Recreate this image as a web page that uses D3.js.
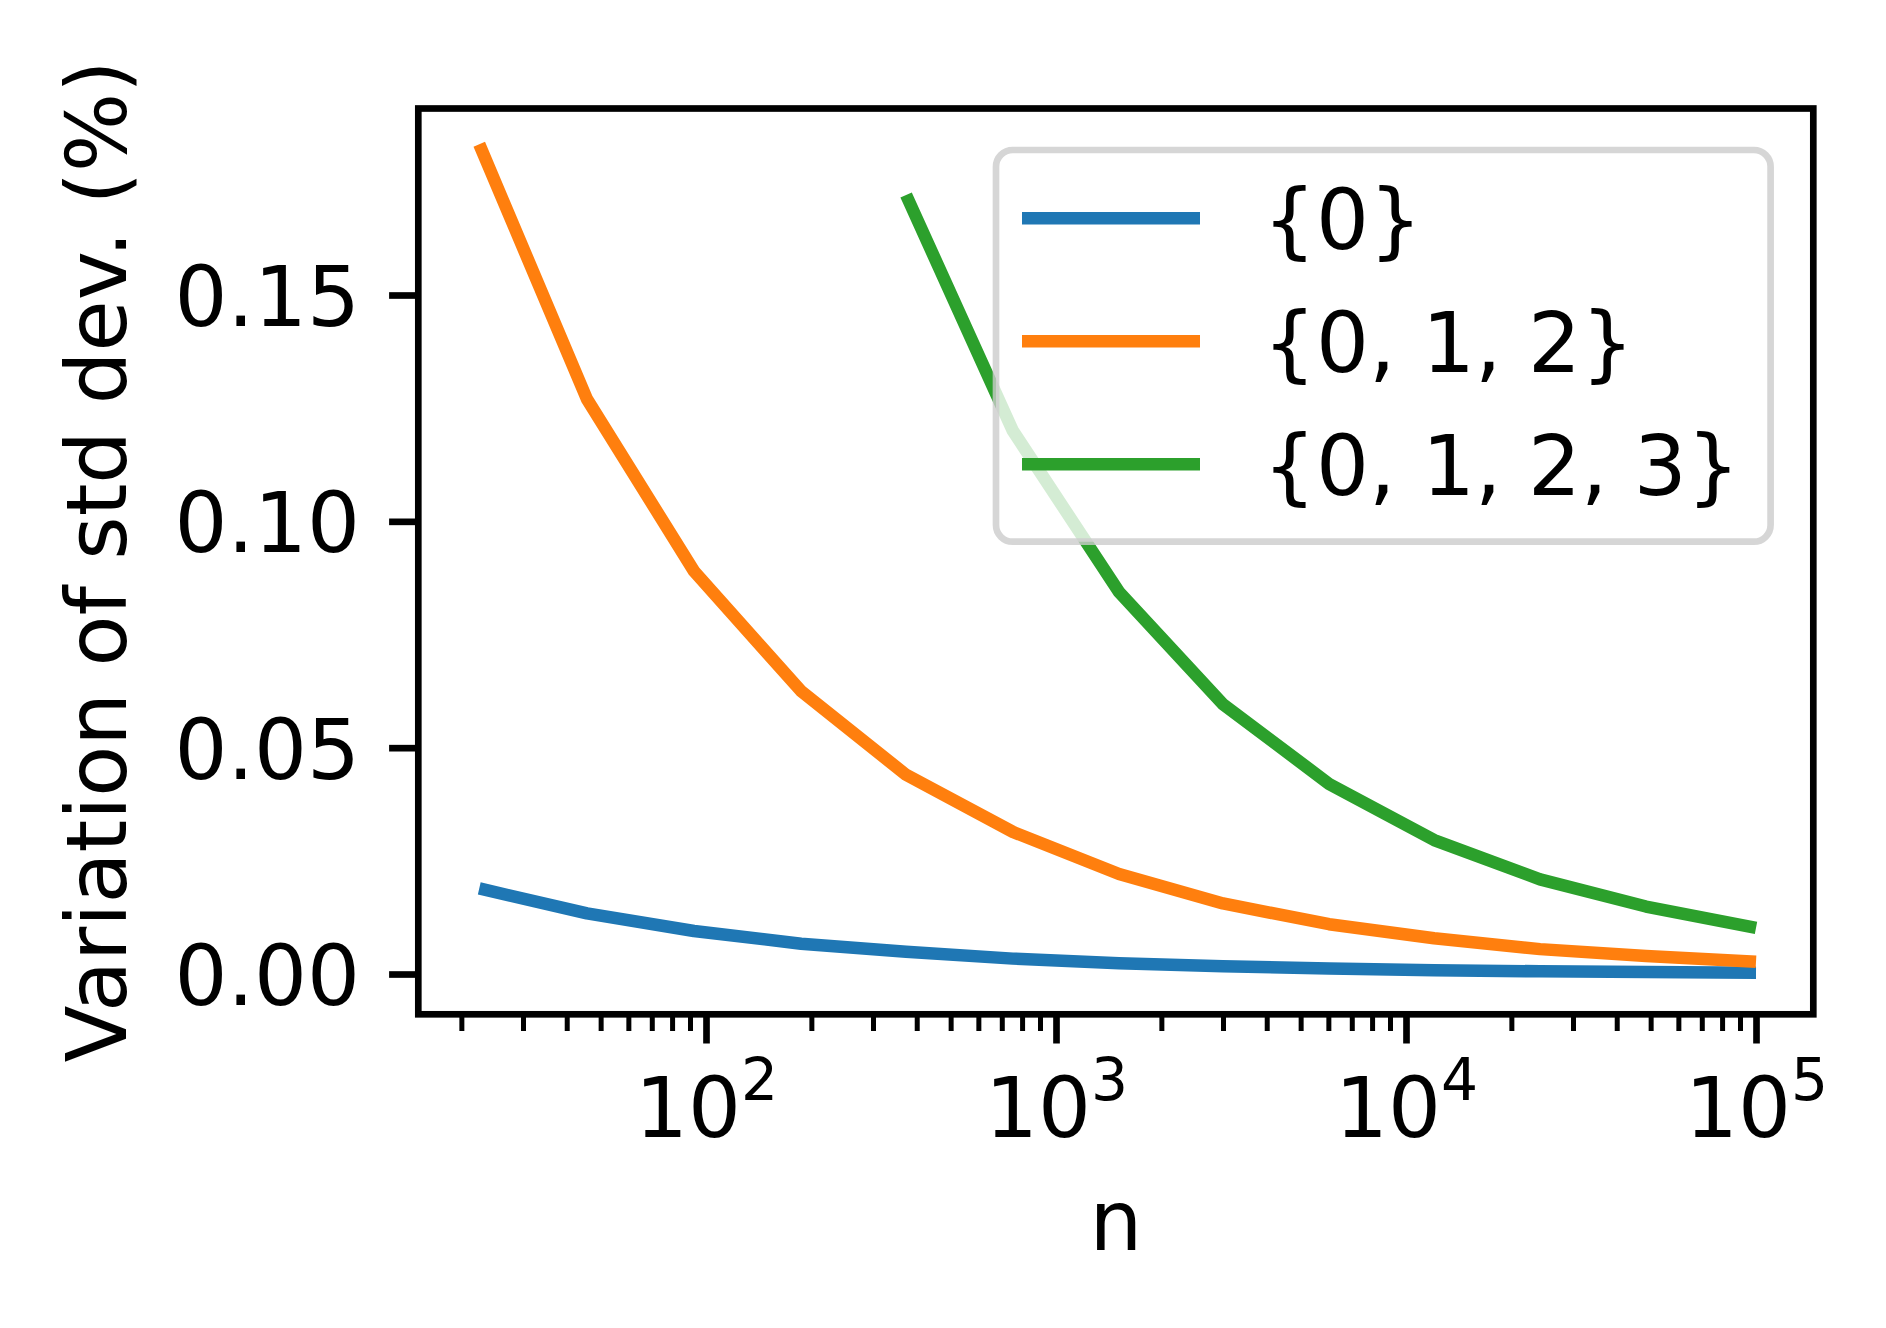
<!DOCTYPE html>
<html>
<head>
<meta charset="utf-8">
<script src="https://cdn.jsdelivr.net/npm/d3@7"></script>
<style>
  html, body { margin: 0; padding: 0; background: #ffffff; }
  svg { display: block; }
  text { font-family: "DejaVu Sans", sans-serif; fill: #000; }
</style>
</head>
<body>
<svg id="chart" width="1886" height="1328"></svg>
<script>
// ---- data ----
const nValues = [22.5, 45.7, 92.4, 187, 373, 753, 1514, 3000, 6030, 12030, 24150, 48500, 100000];
const setZero = [0.0189, 0.0134, 0.0095, 0.0067, 0.0049, 0.0034, 0.0024, 0.0017, 0.0012, 0.00085, 0.0006, 0.00042, 0.0003];
const setZeroOneTwo = [0.1833, 0.1270, 0.0890, 0.0625, 0.0440, 0.0314, 0.0221, 0.0156, 0.0110, 0.0079, 0.0055, 0.0040, 0.0027];
const setZeroToThree = [0.1721, 0.1200, 0.0844, 0.0596, 0.0420, 0.0296, 0.0209, 0.0149, 0.0102]; // starts at 5th n
const seriesLabels = ["{0}", "{0, 1, 2}", "{0, 1, 2, 3}"];
const seriesColors = ["#1f77b4", "#ff7f0e", "#2ca02c"];
const yTicks = [0.00, 0.05, 0.10, 0.15];
const xMajorTicks = [100, 1000, 10000, 100000];
const xLabel = "n";
const yLabel = "Variation of std dev. (%)";

// ---- layout ----
const L = 418.3, R = 1813.3, T = 108.5, B = 1014.3;
const FS = 83.3;
const svg = d3.select("#chart");
svg.append("rect").attr("width", 1886).attr("height", 1328).attr("fill", "#fff");

const x = d3.scaleLog().domain([Math.pow(10, 1.178), Math.pow(10, 5.1637)]).range([L, R]);
const y = d3.scaleLinear().domain([-0.0089, 0.1912]).range([B, T]);

const series = [
  { label: seriesLabels[0], color: seriesColors[0], pts: nValues.map((n, i) => [n, setZero[i]]) },
  { label: seriesLabels[1], color: seriesColors[1], pts: nValues.map((n, i) => [n, setZeroOneTwo[i]]) },
  { label: seriesLabels[2], color: seriesColors[2], pts: nValues.slice(nValues.length - setZeroToThree.length).map((n, i) => [n, setZeroToThree[i]]) }
];

const line = d3.line().x(d => x(d[0])).y(d => y(d[1]));
svg.append("g").selectAll("path").data(series).join("path")
  .attr("d", d => line(d.pts))
  .attr("fill", "none")
  .attr("stroke", d => d.color)
  .attr("stroke-width", 12.5)
  .attr("stroke-linejoin", "round")
  .attr("stroke-linecap", "butt");

// ---- axes ----
const minorTicks = [];
for (let e = 1; e <= 5; e++) for (let m = 2; m <= 9; m++) {
  const v = m * Math.pow(10, e);
  if (v >= x.domain()[0] && v <= x.domain()[1]) minorTicks.push(v);
}
const gxMinor = svg.append("g").attr("transform", `translate(0,${B})`)
  .call(d3.axisBottom(x).tickValues(minorTicks).tickSize(16.7).tickFormat(""));
gxMinor.select(".domain").remove();
gxMinor.selectAll(".tick line").attr("stroke", "#000").attr("stroke-width", 5);

const gx = svg.append("g").attr("transform", `translate(0,${B})`)
  .call(d3.axisBottom(x).tickValues(xMajorTicks).tickSize(29.2).tickFormat(""));
gx.select(".domain").remove();
gx.selectAll(".tick line").attr("stroke", "#000").attr("stroke-width", 6.67);
gx.selectAll(".tick text").each(function(d) {
  const t = d3.select(this);
  t.text(null).attr("y", 122.4).attr("dy", 0)
    .attr("text-anchor", "middle").style("font-size", FS + "px").style("font-family", "DejaVu Sans");
  t.append("tspan").text("10");
  t.append("tspan").text(String(Math.round(Math.log10(d))))
    .attr("dy", -36.7).style("font-size", (FS * 0.7) + "px");
});

const gy = svg.append("g").attr("transform", `translate(${L},0)`)
  .call(d3.axisLeft(y).tickValues(yTicks).tickSize(29.2).tickPadding(29.2).tickFormat(d3.format(".2f")));
gy.select(".domain").remove();
gy.selectAll(".tick line").attr("stroke", "#000").attr("stroke-width", 6.67);
gy.selectAll(".tick text").attr("dy", "0.365em")
  .style("font-size", FS + "px").style("font-family", "DejaVu Sans").attr("fill", "#000");

// spines
svg.append("rect").attr("x", L).attr("y", T).attr("width", R - L).attr("height", B - T)
  .attr("fill", "none").attr("stroke", "#000").attr("stroke-width", 6.67);

// axis labels
svg.append("text").attr("x", (L + R) / 2).attr("y", 1250).attr("text-anchor", "middle")
  .style("font-size", FS + "px").text(xLabel);
svg.append("text").attr("transform", `translate(126,${(T + B) / 2}) rotate(-90)`)
  .attr("text-anchor", "middle").style("font-size", FS + "px").text(yLabel);

// ---- legend ----
const lg = svg.append("g");
lg.append("rect").attr("x", 996).attr("y", 150).attr("width", 774.6).attr("height", 391.7)
  .attr("rx", 16.7).attr("ry", 16.7)
  .attr("fill", "#fff").attr("fill-opacity", 0.8)
  .attr("stroke", "#cccccc").attr("stroke-opacity", 0.8).attr("stroke-width", 6.67);
const items = lg.selectAll("g.item").data(series).join("g").attr("class", "item")
  .attr("transform", (d, i) => `translate(0,${218.3 + i * 123})`);
items.append("line").attr("x1", 1022).attr("x2", 1200).attr("y1", 0).attr("y2", 0)
  .attr("stroke", d => d.color).attr("stroke-width", 12.5);
items.append("text").attr("x", 1263).attr("y", 30.4)
  .style("font-size", FS + "px").text(d => d.label);
</script>
</body>
</html>
